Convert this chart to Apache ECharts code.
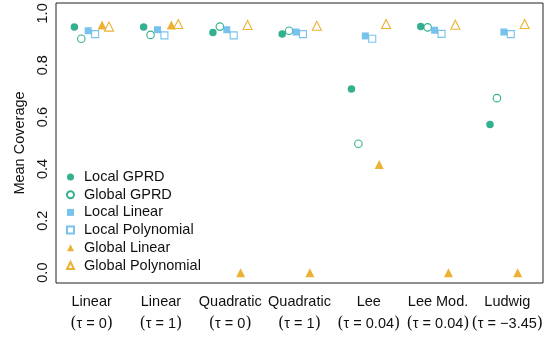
<!DOCTYPE html>
<html>
<head>
<meta charset="utf-8">
<script src="https://cdn.jsdelivr.net/npm/echarts@6/dist/echarts.min.js"></script>
<style>
  html, body { margin: 0; padding: 0; background: #fff; }
  #chart { width: 550px; height: 339px; }
</style>
</head>
<body>
<div id="chart"></div>
<script>
// Scenarios along the x axis
const categories = ['Linear', 'Linear', 'Quadratic', 'Quadratic', 'Lee', 'Lee Mod.', 'Ludwig'];
const tauLabels = ['τ = 0', 'τ = 1', 'τ = 0', 'τ = 1', 'τ = 0.04', 'τ = 0.04', 'τ = −3.45'];

// Mean coverage per method, one value per scenario
const localGPRD    = [0.947, 0.947, 0.926, 0.920, 0.708, 0.949, 0.571];
const globalGPRD   = [0.902, 0.917, 0.949, 0.933, 0.497, 0.946, 0.673];
const localLinear  = [0.933, 0.937, 0.937, 0.928, 0.913, 0.935, 0.928];
const localPoly    = [0.920, 0.915, 0.915, 0.920, 0.902, 0.921, 0.920];
const globalLinear = [0.955, 0.955, 0.000, 0.000, 0.417, 0.000, 0.000];
const globalPoly   = [0.949, 0.959, 0.955, 0.952, 0.959, 0.956, 0.959];

const yTicks = [0, 0.2, 0.4, 0.6, 0.8, 1.0];

const GREEN = '#009E73', BLUE = '#56B4E9', ORANGE = '#E69F00';
const FONT = 'Liberation Sans, Arial, sans-serif';
const FS = 14.5;

const methods = [
  { name: 'Local GPRD',        values: localGPRD,    symbol: 'circle',   size: 7.5, color: GREEN,  hollow: false },
  { name: 'Global GPRD',       values: globalGPRD,   symbol: 'circle',   size: 7.5, color: GREEN,  hollow: true },
  { name: 'Local Linear',      values: localLinear,  symbol: 'rect',     size: 7,   color: BLUE,   hollow: false },
  { name: 'Local Polynomial',  values: localPoly,    symbol: 'rect',     size: 7,   color: BLUE,   hollow: true },
  { name: 'Global Linear',     values: globalLinear, symbol: 'triangle', size: 9,   color: ORANGE, hollow: false },
  { name: 'Global Polynomial', values: globalPoly,   symbol: 'triangle', size: 9,   color: ORANGE, hollow: true }
];

// Methods are dodged side by side around each scenario position
const dodge = 0.1;
const series = methods.map((m, k) => ({
  name: m.name,
  type: 'scatter',
  symbol: m.symbol,
  symbolSize: m.size,
  itemStyle: m.hollow
    ? { color: '#fff', borderColor: m.color, borderWidth: 1.1 }
    : { color: m.color, borderWidth: 0 },
  emphasis: { disabled: true },
  data: m.values.map((v, i) => [i + 1 + (k - 2.5) * dodge, v])
}));

const chart = echarts.init(document.getElementById('chart'), null, { renderer: 'canvas' });
chart.setOption({
  animation: false,
  backgroundColor: '#fff',
  grid: {
    left: 56, right: 7, top: 3, bottom: 56,
    show: true, borderColor: '#222', borderWidth: 1, backgroundColor: 'transparent'
  },
  legend: {
    orient: 'vertical',
    left: 66, top: 169,
    itemWidth: 7, itemHeight: 7,
    itemGap: 1.7,
    padding: 0,
    textStyle: { fontFamily: FONT, fontSize: FS, color: '#111', lineHeight: 16, padding: [0, 0, 0, 5] },
    data: methods.map(m => ({ name: m.name, icon: m.symbol }))
  },
  xAxis: {
    type: 'value',
    min: 0.485, max: 7.515,
    axisLine: { show: false },
    axisTick: { show: false },
    splitLine: { show: false },
    axisLabel: {
      customValues: categories.map((c, i) => i + 1),
      margin: 9,
      fontFamily: FONT,
      color: '#111',
      formatter: v => {
        const i = Math.round(v) - 1;
        return '{a|' + categories[i] + '}\n{p|(}{b|' + tauLabels[i] + '}{p|)}';
      },
      rich: {
        a: { fontFamily: FONT, fontSize: FS, lineHeight: 20, color: '#111' },
        b: { fontFamily: FONT, fontSize: FS, lineHeight: 24, color: '#111' },
        p: { fontFamily: 'DejaVu Serif, serif', fontSize: 16, lineHeight: 24, color: '#111' }
      }
    }
  },
  yAxis: {
    type: 'value',
    min: -0.04, max: 1.04,
    name: 'Mean Coverage',
    nameLocation: 'middle',
    nameGap: 27,
    nameTextStyle: { fontFamily: FONT, fontSize: FS, color: '#111' },
    axisLine: { show: false },
    axisTick: { show: false },
    splitLine: { show: false },
    axisLabel: {
      customValues: yTicks,
      rotate: 90,
      margin: 6,
      fontFamily: FONT,
      fontSize: FS,
      color: '#111',
      formatter: v => v.toFixed(1)
    }
  },
  series: series
});
</script>
</body>
</html>
